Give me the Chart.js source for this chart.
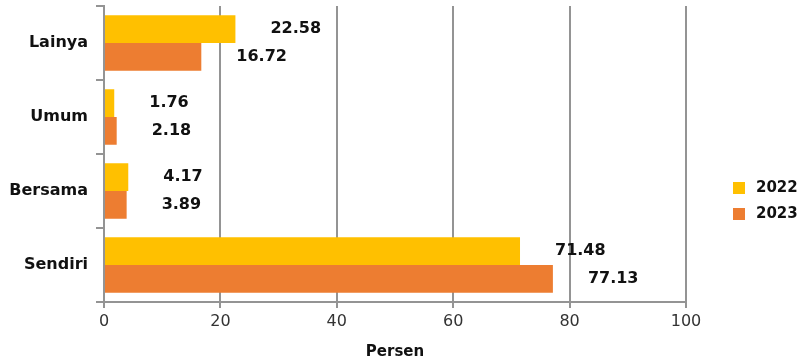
<!DOCTYPE html>
<html>
<head>
<meta charset="utf-8">
<script src="https://cdn.jsdelivr.net/npm/chart.js@4.4.1/dist/chart.umd.min.js"></script>
<style>
    html, body { margin: 0; padding: 0; background: #fff; }
    #wrap { position: relative; width: 802px; height: 361px; }
</style>
</head>
<body>
<div id="wrap"><canvas id="myChart"></canvas></div>
<script>
// data
const categories = ['Lainya', 'Umum', 'Bersama', 'Sendiri'];
const years = ['2022', '2023'];
const values2022 = [22.58, 1.76, 4.17, 71.48];
const values2023 = [16.72, 2.18, 3.89, 77.13];
const xTicks = [0, 20, 40, 60, 80, 100];

const colors = ['#FFC000', '#ED7D31'];
const gridColor = '#949494';
const FONT = '"DejaVu Sans", Verdana, sans-serif';

// value labels to the right of each bar
const valueLabels = {
    id: 'valueLabels',
    afterDatasetsDraw(chart) {
        const ctx = chart.ctx;
        ctx.save();
        ctx.font = 'bold 16px ' + FONT;
        ctx.fillStyle = '#111';
        ctx.textAlign = 'left';
        ctx.textBaseline = 'middle';
        chart.data.datasets.forEach((ds, i) => {
            chart.getDatasetMeta(i).data.forEach((bar, j) => {
                ctx.fillText(ds.data[j].toFixed(2), bar.x + 35, bar.y);
            });
        });
        ctx.restore();
    }
};

// legend on the right side
const sideLegend = {
    id: 'sideLegend',
    afterDraw(chart) {
        const ctx = chart.ctx;
        const x = chart.chartArea.right + 47;
        ctx.save();
        ctx.font = 'bold 15px ' + FONT;
        ctx.textBaseline = 'middle';
        chart.data.datasets.forEach((ds, i) => {
            const y = 188 + i * 26;
            ctx.fillStyle = ds.backgroundColor;
            ctx.fillRect(x, y - 6, 12, 12);
            ctx.fillStyle = '#111';
            ctx.fillText(ds.label, x + 23, y);
        });
        ctx.restore();
    }
};

new Chart(document.getElementById('myChart'), {
    type: 'bar',
    data: {
        labels: categories,
        datasets: [
            { label: years[0], data: values2022, backgroundColor: colors[0] },
            { label: years[1], data: values2023, backgroundColor: colors[1] }
        ]
    },
    options: {
        indexAxis: 'y',
        responsive: true,
        maintainAspectRatio: false,
        animation: false,
        categoryPercentage: 0.75,
        barPercentage: 1,
        layout: { padding: { top: 6, right: 116, bottom: 0, left: 0 } },
        plugins: {
            legend: { display: false },
            tooltip: { enabled: false }
        },
        scales: {
            x: {
                min: 0,
                max: 100,
                afterBuildTicks: scale => { scale.ticks = xTicks.map(v => ({ value: v })); },
                afterFit: scale => { scale.height = 59; },
                grid: { color: gridColor, lineWidth: 2, tickLength: 6 },
                border: { color: gridColor, width: 2 },
                ticks: {
                    color: '#333',
                    padding: 4,
                    maxRotation: 0,
                    font: { family: FONT, size: 16 }
                },
                title: {
                    display: true,
                    text: 'Persen',
                    color: '#111',
                    padding: { top: 0, bottom: 0 },
                    font: { family: FONT, size: 15, weight: 'bold' }
                }
            },
            y: {
                afterFit: scale => {
                    scale.width = 104;
                    scale.paddingTop = 0;
                    scale.paddingBottom = 0;
                },
                grid: { drawOnChartArea: false, offset: true, color: gridColor, lineWidth: 2, tickLength: 8 },
                border: { color: gridColor, width: 2 },
                ticks: {
                    color: '#111',
                    padding: 8,
                    font: { family: FONT, size: 16, weight: 'bold' }
                }
            }
        }
    },
    plugins: [valueLabels, sideLegend]
});
</script>
</body>
</html>
